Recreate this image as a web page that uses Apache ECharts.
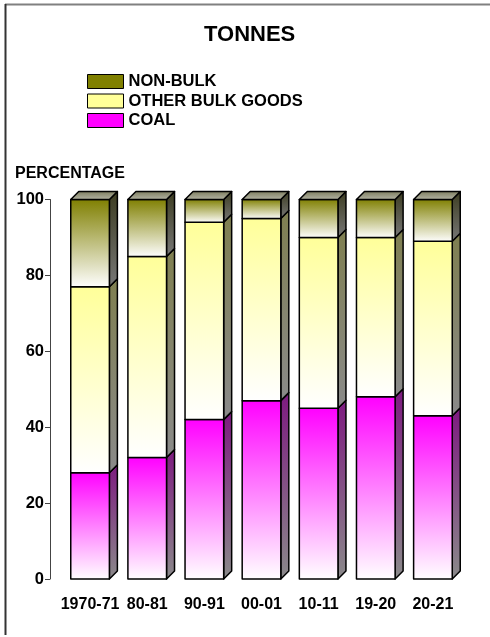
<!DOCTYPE html>
<html>
<head>
<meta charset="utf-8">
<script src="https://cdn.jsdelivr.net/npm/echarts@6/dist/echarts.min.js"></script>
<style>
  html, body { margin: 0; padding: 0; background: #fff; }
  #chart { width: 490px; height: 637px; }
</style>
</head>
<body>
<div id="chart"></div>
<script>
// Share of tonnes by cargo type, percent of total per year
const categories = ['1970-71', '80-81', '90-91', '00-01', '10-11', '19-20', '20-21'];
const coal      = [28, 32, 42, 47, 45, 48, 43];
const otherBulk = [49, 53, 52, 48, 45, 42, 46];
const nonBulk   = [23, 15, 6, 5, 10, 10, 11];
const yTicks    = [0, 20, 40, 60, 80, 100];

const FONT = "'Liberation Sans', Arial, sans-serif";
const DEPTH = 8;

function grad(top, bottom) {
  return { type: 'linear', x: 0, y: 0, x2: 0, y2: 1,
    colorStops: [{ offset: 0, color: top }, { offset: 1, color: bottom }] };
}

// Stack the layers in drawing order (bottom to top)
const layers = [
  { name: 'COAL', values: coal, swatch: '#ff00ff',
    front: grad('#ff00ff', '#ffffff'), side: grad('#7d1a80', '#8a8a8a') },
  { name: 'OTHER BULK GOODS', values: otherBulk, swatch: '#ffff99',
    front: grad('#ffff99', '#ffffff'), side: grad('#7f7f50', '#8a8a8a') },
  { name: 'NON-BULK', values: nonBulk, swatch: '#808000',
    front: grad('#7f7f00', '#ffffff'), side: grad('#3c3c20', '#777777') }
];

const base = categories.map(() => 0);
const series = layers.map((layer, li) => {
  const data = layer.values.map((v, i) => {
    const lo = base[i];
    base[i] = lo + v;
    return [i, lo, lo + v];
  });
  const isTop = li === layers.length - 1;
  return {
    name: layer.name,
    type: 'custom',
    itemStyle: { color: layer.swatch },
    encode: { x: 0, y: [1, 2] },
    data: data,
    renderItem: function (params, api) {
      const idx = api.value(0);
      const pTop = api.coord([idx, api.value(2)]);
      const pBot = api.coord([idx, api.value(1)]);
      const band = api.size([1, 0])[0];
      const w = band * 0.676;
      const l = pTop[0] - w / 2;
      const r = pTop[0] + w / 2;
      const yt = pTop[1];
      const yb = pBot[1];
      const d = DEPTH;
      const stroke = { stroke: '#000', lineWidth: 1.5, lineJoin: 'round' };
      const children = [
        { type: 'polygon',
          shape: { points: [[r, yt], [r + d, yt - d], [r + d, yb - d], [r, yb]] },
          style: Object.assign({ fill: layer.side }, stroke) },
        { type: 'rect',
          shape: { x: l, y: yt, width: w, height: yb - yt },
          style: Object.assign({ fill: layer.front }, stroke) }
      ];
      if (isTop) {
        children.push({ type: 'polygon',
          shape: { points: [[l, yt], [l + d, yt - d], [r + d, yt - d], [r, yt]] },
          style: Object.assign({ fill: grad('#7a7a5c', '#b8b8a8') }, stroke) });
      }
      return { type: 'group', children: children };
    }
  };
});

const chart = echarts.init(document.getElementById('chart'), null, { renderer: 'canvas' });
chart.setOption({
  backgroundColor: '#fff',
  animation: false,
  textStyle: { fontFamily: FONT },
  title: [
    { text: 'TONNES', left: 204, top: 24, padding: 0,
      textStyle: { fontFamily: FONT, fontSize: 22, fontWeight: 'bold', color: '#000' } },
    { text: 'PERCENTAGE', left: 15, top: 166, padding: 0,
      textStyle: { fontFamily: FONT, fontSize: 16, fontWeight: 'bold', color: '#000' } }
  ],
  legend: {
    data: ['NON-BULK', 'OTHER BULK GOODS', 'COAL'],
    orient: 'vertical',
    left: 82, top: 68,
    itemWidth: 36, itemHeight: 14, itemGap: 2.5,
    icon: 'rect',
    selectedMode: false,
    itemStyle: { borderColor: '#000', borderWidth: 1 },
    textStyle: { fontFamily: FONT, fontSize: 16.5, fontWeight: 'bold', color: '#000',
      lineHeight: 14 }
  },
  grid: { left: 61.5, right: 28.5, top: 199.5, bottom: 58 },
  xAxis: {
    type: 'category',
    data: categories,
    axisLine: { show: false },
    axisTick: { show: false },
    axisLabel: { interval: 0, margin: 18, fontFamily: FONT, fontSize: 16, fontWeight: 'bold', color: '#000' }
  },
  yAxis: {
    type: 'value',
    min: yTicks[0], max: yTicks[yTicks.length - 1], interval: 20,
    offset: 11.5,
    splitLine: { show: false },
    axisLine: { show: true, lineStyle: { color: '#444', width: 1 } },
    axisTick: { show: true, length: 5, lineStyle: { color: '#444' } },
    axisLabel: { margin: 6, fontFamily: FONT, fontSize: 16.5, fontWeight: 'bold', color: '#000' }
  },
  graphic: [
    { type: 'line', shape: { x1: 5, y1: 4.5, x2: 490, y2: 4.5 },
      style: { stroke: '#808080', lineWidth: 2 } },
    { type: 'line', shape: { x1: 5.5, y1: 4, x2: 5.5, y2: 635 },
      style: { stroke: '#333', lineWidth: 2 } }
  ],
  series: series
});
</script>
</body>
</html>
